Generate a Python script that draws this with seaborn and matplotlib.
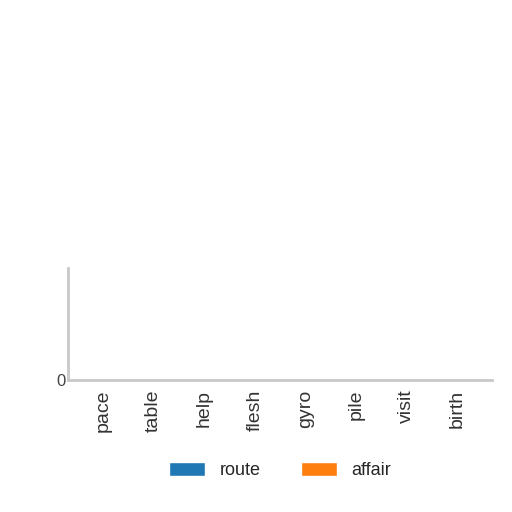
import seaborn as sns
import matplotlib.pyplot as plt
import pandas as pd

categories = ["pace", "table", "help", "flesh", "gyro", "pile", "visit", "birth"]
route = [0.01, 0.01, 0.01, 0.01, 0.01, 0.01, 0.01, 0.01]
affair = [0.01, 0.01, 0.01, 0.01, 0.01, 0.01, 0.01, 0.01]

df = pd.DataFrame({"category": categories * 2,
                   "value": route + affair,
                   "series": ["route"] * len(categories) + ["affair"] * len(categories)})

sns.set_style("white")
plt.rcParams['font.family'] = ['Liberation Sans', 'DejaVu Sans']

fig = plt.figure(figsize=(5.12, 5.12), dpi=100)
ax = fig.add_axes([0.133, 0.258, 0.828, 0.219])
sns.barplot(data=df, x="category", y="value", hue="series",
            palette=["#1f77b4", "#ff7f0e"], saturation=1, ax=ax, width=0.7)

ax.set_xlim(-0.69, 7.69)
ax.set_ylim(0, 1)
ax.set_yticks([0])
ax.set_yticklabels(["0"], fontsize=12, color="#444444")
ax.set_xlabel("")
ax.set_ylabel("")
ax.tick_params(axis="x", labelrotation=90, labelsize=14, colors="#333333", length=0, pad=7)
ax.tick_params(axis="y", length=0, pad=2)
for side in ["top", "right"]:
    ax.spines[side].set_visible(False)
for side in ["left", "bottom"]:
    ax.spines[side].set_color("#c8c8c8")
    ax.spines[side].set_linewidth(2)

ax.legend(loc="upper center", bbox_to_anchor=(0.5, -0.585), ncol=2, frameon=False,
          fontsize=13, handlelength=2.0, handleheight=0.8, columnspacing=2.2)

plt.savefig("out.png", dpi=100)
plt.close()
